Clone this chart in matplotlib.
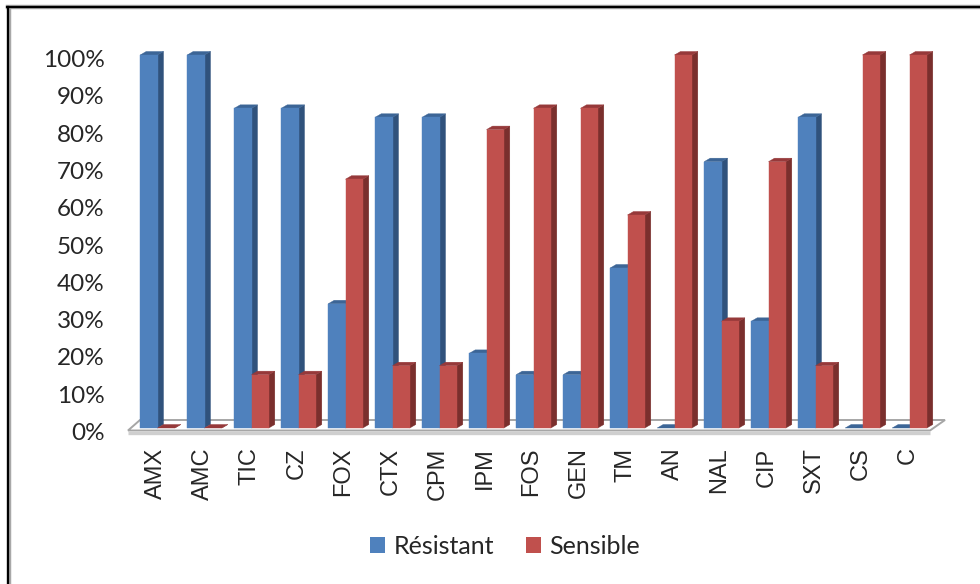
"""Antibiotic susceptibility profile: resistant vs sensitive share per drug, drawn as
faux-3D clustered columns."""
import matplotlib
matplotlib.use("Agg")
import matplotlib.pyplot as plt
from matplotlib.lines import Line2D
from matplotlib.patches import Patch, Polygon
from matplotlib.ticker import PercentFormatter
from matplotlib.transforms import ScaledTranslation

drugs = ["AMX", "AMC", "TIC", "CZ", "FOX", "CTX", "CPM", "IPM", "FOS", "GEN",
         "TM", "AN", "NAL", "CIP", "SXT", "CS", "C"]
resistant = [100, 100, 85.7, 85.7, 33.3, 83.3, 83.3, 20, 14.3, 14.3,
             42.9, 0, 71.4, 28.6, 83.3, 0, 0]
sensible = [0, 0, 14.3, 14.3, 66.7, 16.7, 16.7, 80, 85.7, 85.7,
            57.1, 100, 28.6, 71.4, 16.7, 100, 100]
y_ticks = list(range(0, 101, 10))

W, H = 980, 584
# plot area in pixels: category slots are 47 px wide, 10% is 37.3 px tall
LEFT, RIGHT, BOTTOM, TOP = 134, 933, 428, 55
PX_X = 17 / (RIGHT - LEFT)
PX_Y = 100 / (BOTTOM - TOP)
BAR_W = 17.3 * PX_X
DEPTH_X, DEPTH_Y = 6 * PX_X, 3.5 * PX_Y

# front, side, top shades
BLUE = ("#4f81bd", "#30527c", "#3c6596")
RED = ("#c0504d", "#7a2f2d", "#96393a")
FLOOR_EDGE = "#a6a6a6"
TEXT = "#262626"

plt.rcParams["font.family"] = ["Lato", "DejaVu Sans"]

fig = plt.figure(figsize=(W / 100, H / 100), dpi=100, facecolor="white")
ax = fig.add_axes([LEFT / W, 1 - BOTTOM / H, (RIGHT - LEFT) / W, (BOTTOM - TOP) / H])
ax.set_xlim(-0.5, 16.5)
ax.set_ylim(0, 100)
for s in ax.spines.values():
    s.set_visible(False)


def poly(pts, color, z):
    ax.add_patch(Polygon(pts, closed=True, facecolor=color, edgecolor=color,
                         lw=0.3, clip_on=False, zorder=z))


def bar3d(x0, value, shades, z):
    x1 = x0 + BAR_W
    dx, dy = DEPTH_X, DEPTH_Y
    front, side, top = shades
    poly([(x1, 0), (x1 + dx, dy), (x1 + dx, value + dy), (x1, value)], side, z)
    poly([(x0, value), (x1, value), (x1 + dx, value + dy), (x0 + dx, value + dy)], top, z)
    if value > 0:
        poly([(x0, 0), (x1, 0), (x1, value), (x0, value)], front, z)


# chart floor: a thin slab under the columns
fy, by = -2.5 * PX_Y, 8 * PX_Y
fx0, fx1 = -0.5 - 6 * PX_X, 16.5 - 3 * PX_X
bx0, bx1 = fx0 + 12 * PX_X, fx1 + 15 * PX_X
ax.add_patch(Polygon([(fx0, fy), (fx1, fy), (bx1, by), (bx0, by)], closed=True,
                     facecolor="white", edgecolor=FLOOR_EDGE, lw=1.4,
                     clip_on=False, zorder=1))
ax.plot([fx0, fx1], [fy - 2.2 * PX_Y] * 2, color="#cfcfcf", lw=2.4, clip_on=False,
        zorder=1, solid_capstyle="butt")

for i in range(len(drugs)):
    bar3d(i - BAR_W, resistant[i], BLUE, 2 + i * 2)
    bar3d(i, sensible[i], RED, 3 + i * 2)

ax.set_yticks(y_ticks)
ax.yaxis.set_major_formatter(PercentFormatter(100, decimals=0))
ax.set_xticks(range(len(drugs)))
ax.set_xticklabels(drugs, rotation=90, fontfamily=["Liberation Sans"], fontsize=17,
                   color=TEXT)
ax.tick_params(axis="x", length=0, pad=14)
ax.tick_params(axis="y", length=0, pad=21, labelsize=17.5, labelcolor=TEXT)
for lab in ax.get_yticklabels():
    lab.set_transform(lab.get_transform() + ScaledTranslation(0, -3.5 / 100, fig.dpi_scale_trans))
for lab in ax.get_xticklabels():
    lab.set_transform(lab.get_transform() + ScaledTranslation(-2 / 100, 0, fig.dpi_scale_trans))

handles = [Patch(facecolor=BLUE[0], label="Résistant"),
           Patch(facecolor=RED[0], label="Sensible")]
fig.legend(handles=handles, loc="center", bbox_to_anchor=(505 / W, 1 - 546 / H),
           ncol=2, frameon=False, fontsize=18, labelcolor=TEXT, handlelength=0.6,
           handleheight=0.6, handletextpad=0.32, columnspacing=1.28)

# chart frame: only the top and left edges, each with a grey inner shadow
fig.add_artist(Line2D([7.5 / W, 1], [1 - 7 / H] * 2, color="#a8a8a8", lw=3.2, transform=fig.transFigure))
fig.add_artist(Line2D([8.5 / W] * 2, [0, 1 - 7.5 / H], color="#a8a8a8", lw=3.2, transform=fig.transFigure))
fig.add_artist(Line2D([6.5 / W, 1], [1 - 6.5 / H] * 2, color="#000000", lw=1.6, transform=fig.transFigure))
fig.add_artist(Line2D([7.5 / W] * 2, [0, 1 - 6.5 / H], color="#000000", lw=1.6, transform=fig.transFigure))

fig.savefig("out.png", dpi=100, facecolor="white")
